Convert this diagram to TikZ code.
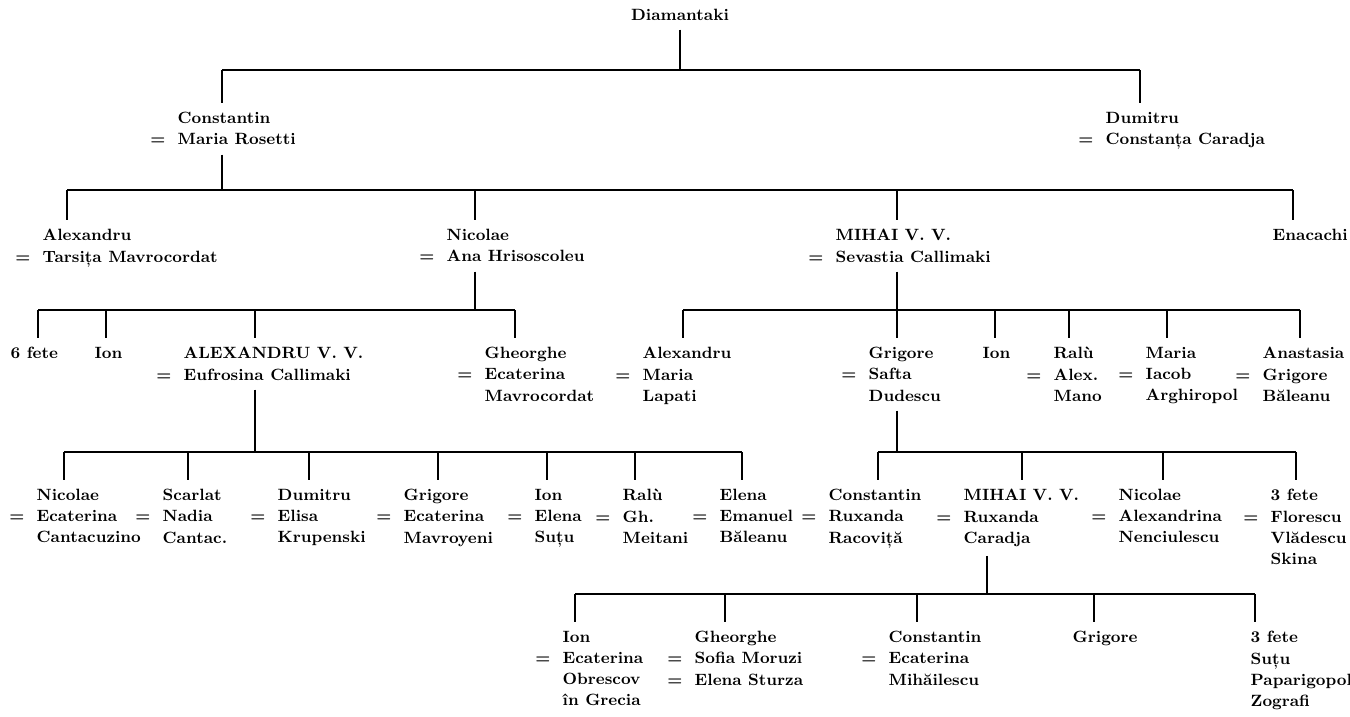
\documentclass[tikz,border=0pt]{standalone}
\usepackage{tikz}

\newcommand{\wed}{\llap{=\hspace{.75em}}}
\tikzset{
  person/.style={anchor=north west, align=left, inner xsep=0pt, inner ysep=5pt,
    font=\fontsize{9.3}{12}\selectfont\bfseries}
}

\begin{document}
\begin{tikzpicture}[x=0.02cm,y=-0.02cm,line width=0.8pt]
    \useasboundingbox (0,0) rectangle (1350,717);
    \node[person,anchor=base] (diam) at (680,20) {Diamantaki};

    \node[person] (constantin) at (177,103) {Constantin\\\wed Maria Rosetti};
    \node[person] (dumitru) at (1105,103) {Dumitru\\\wed Constanța Caradja};

    \node[person] (alexandru) at (42,220) {Alexandru\\\wed Tarsița Mavrocordat};
    \node[person] (nicolae) at (446,220) {Nicolae\\\wed Ana Hrisoscoleu};
    \node[person] (mihai) at (835,220) {MIHAI V. V.\\\wed Sevastia Callimaki};
    \node[person] (enacachi) at (1272,220) {Enacachi};

    \node[person] (fete6) at (10,338) {6 fete};
    \node[person] (ion) at (94,338) {Ion};
    \node[person] (alexvv) at (183,338) {ALEXANDRU V. V.\\\wed Eufrosina Callimaki};
    \node[person] (gheorghe) at (484,338) {Gheorghe\\\wed Ecaterina\\Mavrocordat};
    \node[person] (alexandrub) at (642,338) {Alexandru\\\wed Maria\\Lapati};
    \node[person] (grigore) at (868,338) {Grigore\\\wed Safta\\Dudescu};
    \node[person] (ionb) at (982,338) {Ion};
    \node[person] (ralu) at (1053,338) {Ralù\\\wed Alex.\\Mano};
    \node[person] (maria) at (1145,338) {Maria\\\wed Iacob\\Arghiropol};
    \node[person] (anastasia) at (1262,338) {Anastasia\\\wed Grigore\\Băleanu};

    \node[person] (nicolaeb) at (36,480) {Nicolae\\\wed Ecaterina\\Cantacuzino};
    \node[person] (scarlat) at (162,480) {Scarlat\\\wed Nadia\\Cantac.};
    \node[person] (dumitrub) at (277,480) {Dumitru\\\wed Elisa\\Krupenski};
    \node[person] (grigoreb) at (403,480) {Grigore\\\wed Ecaterina\\Mavroyeni};
    \node[person] (ionc) at (534,480) {Ion\\\wed Elena\\Suțu};
    \node[person] (ralub) at (622,480) {Ralù\\\wed Gh.\\Meitani};
    \node[person] (elena) at (719,480) {Elena\\\wed Emanuel\\Băleanu};
    \node[person] (constantinb) at (828,480) {Constantin\\\wed Ruxanda\\Racoviță};
    \node[person] (mihaib) at (963,480) {MIHAI V. V.\\\wed Ruxanda\\Caradja};
    \node[person] (nicolaec) at (1118,480) {Nicolae\\\wed Alexandrina\\Nenciulescu};
    \node[person] (fete3) at (1270,480) {3 fete\\\wed Florescu\\Vlădescu\\Skina};

    \node[person] (iond) at (562,622) {Ion\\\wed Ecaterina\\Obrescov\\în Grecia};
    \node[person] (gheorgheb) at (694,622) {Gheorghe\\\wed Sofia Moruzi\\\wed Elena Sturza};
    \node[person] (constantinc) at (888,622) {Constantin\\\wed Ecaterina\\Mihăilescu};
    \node[person] (grigorec) at (1072,622) {Grigore};
    \node[person] (fete3b) at (1250,622) {3 fete\\Suțu\\Paparigopol\\Zografi};

    \coordinate (b0) at (680,70);
    \draw (diam.south) -- (b0);
    \draw (b0 -| 222,0) -- (b0 -| 1140,0);
    \foreach \c/\x in {constantin/222, dumitru/1140}
        \draw (b0 -| \x,0) -- (\c.north -| \x,0);

    \coordinate (b1) at (222,190);
    \draw (constantin.south -| b1) -- (b1);
    \draw (b1 -| 67,0) -- (b1 -| 1293,0);
    \foreach \c/\x in {alexandru/67, nicolae/475, mihai/897, enacachi/1293}
        \draw (b1 -| \x,0) -- (\c.north -| \x,0);

    \coordinate (b2) at (475,310);
    \draw (nicolae.south -| b2) -- (b2);
    \draw (b2 -| 38,0) -- (b2 -| 515,0);
    \foreach \c/\x in {fete6/38, ion/106, alexvv/255, gheorghe/515}
        \draw (b2 -| \x,0) -- (\c.north -| \x,0);

    \coordinate (b3) at (897,310);
    \draw (mihai.south -| b3) -- (b3);
    \draw (b3 -| 683,0) -- (b3 -| 1300,0);
    \foreach \c/\x in {alexandrub/683, grigore/897, ionb/995, ralu/1069, maria/1167, anastasia/1300}
        \draw (b3 -| \x,0) -- (\c.north -| \x,0);

    \coordinate (b4) at (255,452);
    \draw (alexvv.south -| b4) -- (b4);
    \draw (b4 -| 64,0) -- (b4 -| 742,0);
    \foreach \c/\x in {nicolaeb/64, scarlat/188, dumitrub/309, grigoreb/438, ionc/547, ralub/635, elena/742}
        \draw (b4 -| \x,0) -- (\c.north -| \x,0);

    \coordinate (b5) at (897,452);
    \draw (grigore.south -| b5) -- (b5);
    \draw (b5 -| 878,0) -- (b5 -| 1296,0);
    \foreach \c/\x in {constantinb/878, mihaib/1022, nicolaec/1163, fete3/1296}
        \draw (b5 -| \x,0) -- (\c.north -| \x,0);

    \coordinate (b6) at (987,594);
    \draw (mihaib.south -| b6) -- (b6);
    \draw (b6 -| 575,0) -- (b6 -| 1255,0);
    \foreach \c/\x in {iond/575, gheorgheb/725, constantinc/917, grigorec/1094, fete3b/1255}
        \draw (b6 -| \x,0) -- (\c.north -| \x,0);
\end{tikzpicture}
\end{document}
